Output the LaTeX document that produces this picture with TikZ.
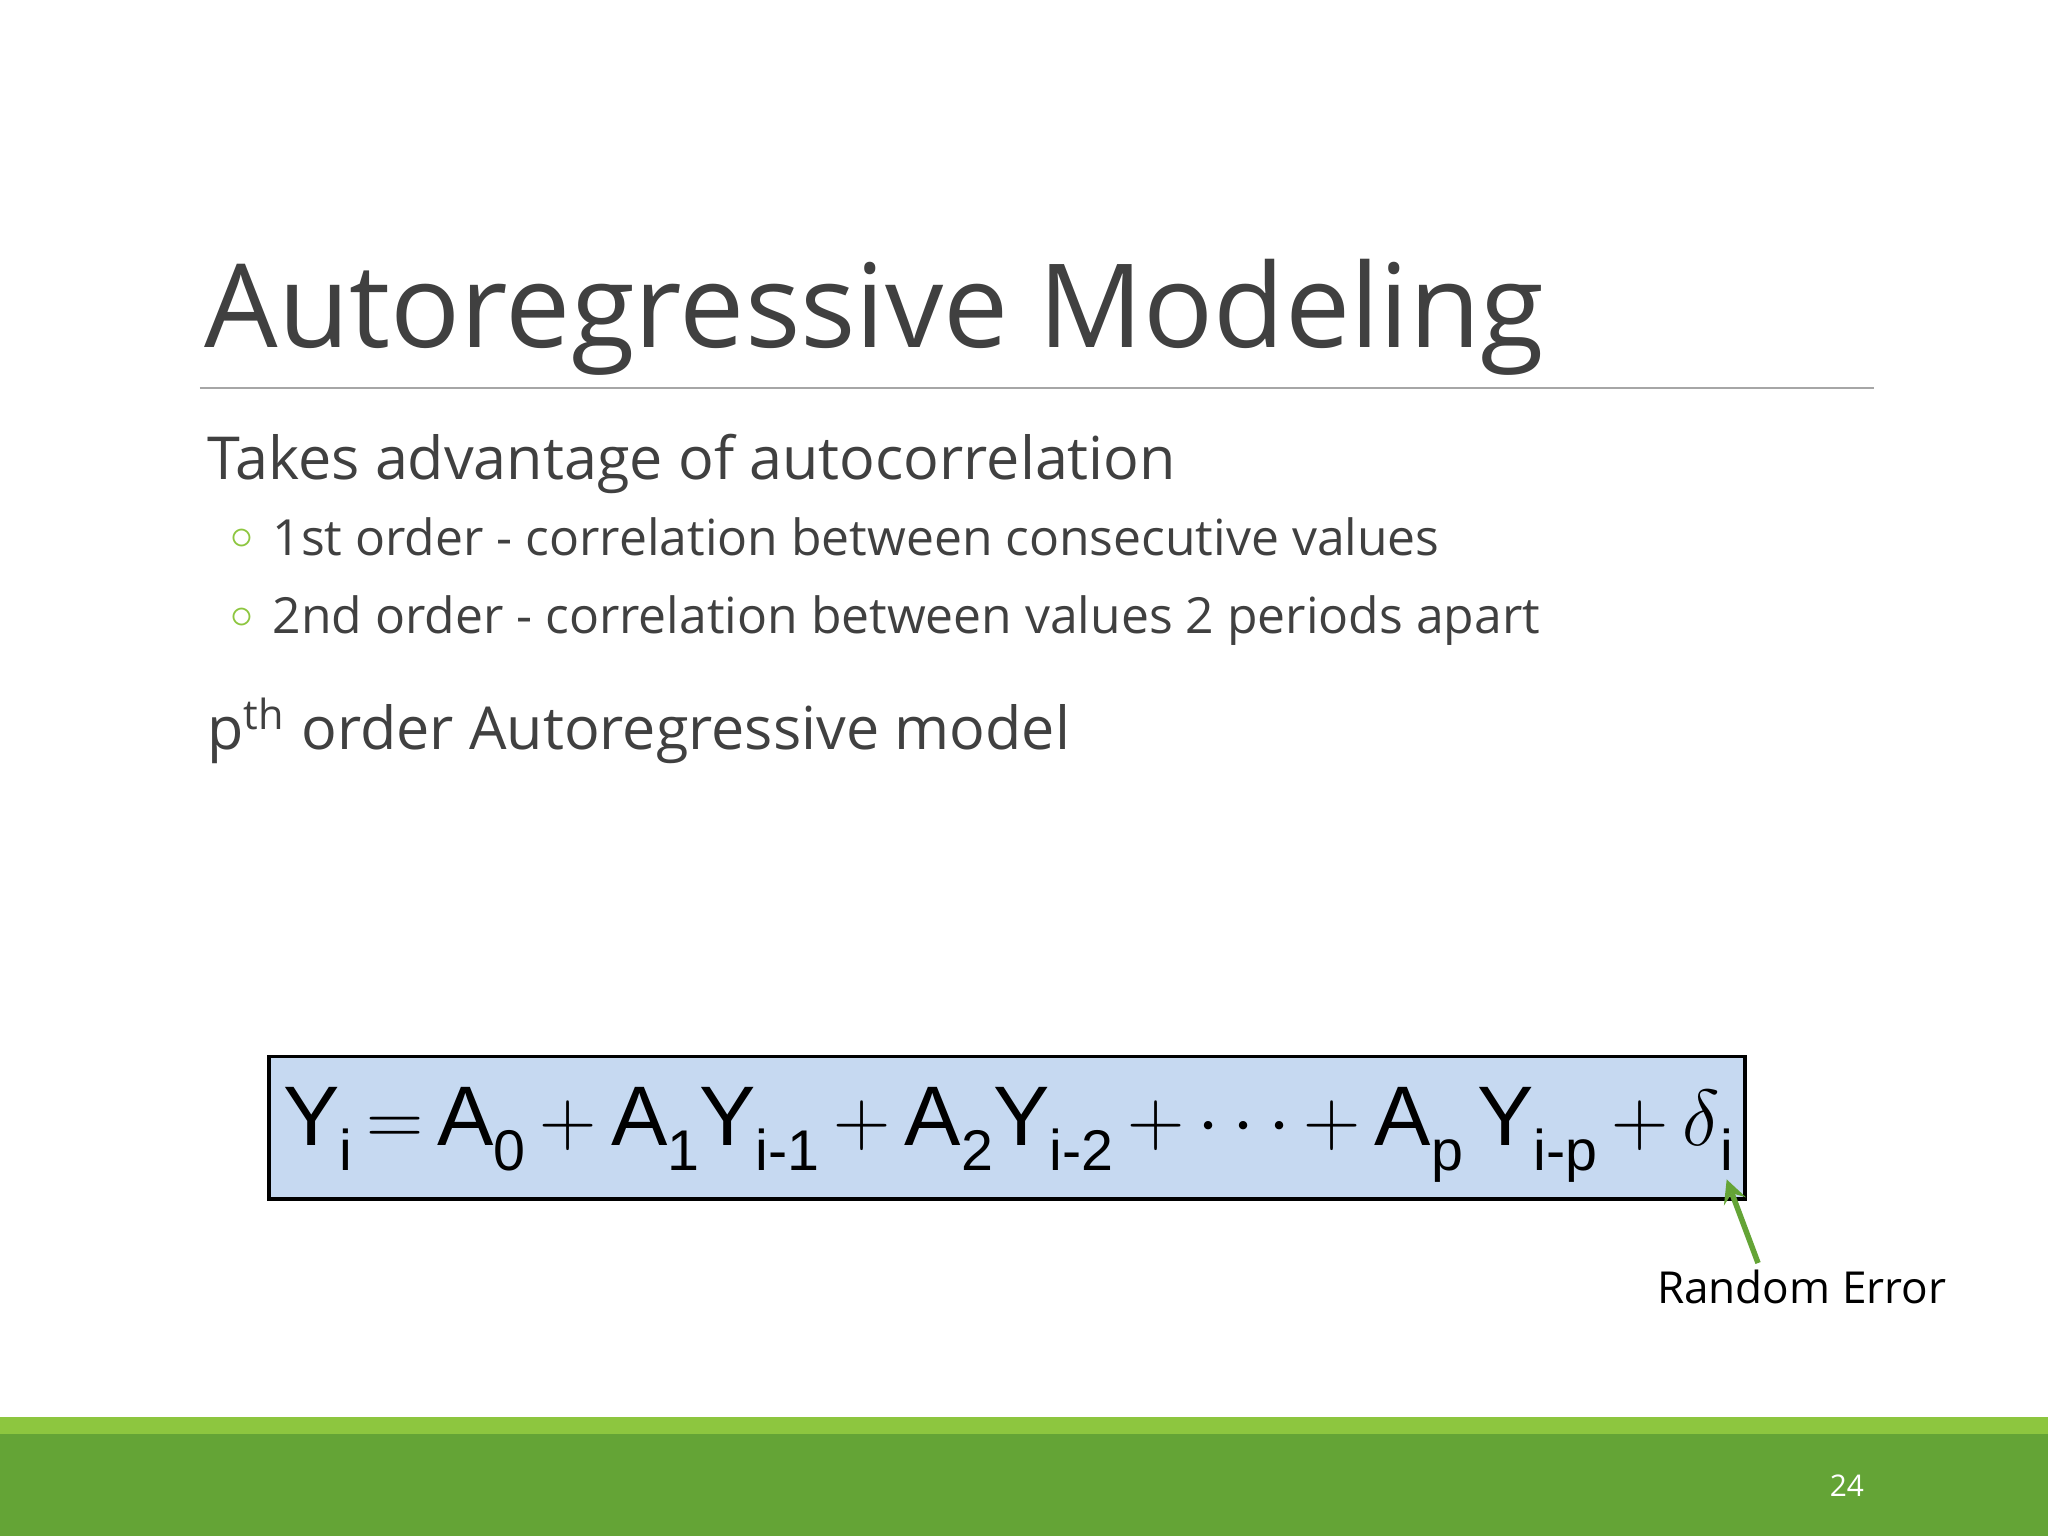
\documentclass[tikz,border=0pt]{standalone}
\usepackage{fontspec}
\setmainfont{Open Sans}
\newfontfamily\arialf{Liberation Sans}
\definecolor{txt}{HTML}{404040}
\definecolor{eqblue}{HTML}{C6D9F1}
\definecolor{lgreen}{HTML}{8DC63F}
\definecolor{dgreen}{HTML}{64A436}
\newcommand{\sbx}[1]{\raisebox{-0.55ex}{\fontsize{12.5}{13}\selectfont #1}}
\tikzset{lbl/.style={anchor=base west,inner sep=0pt,text=txt}}
\begin{document}
\begin{tikzpicture}[x=0.01cm,y=-0.01cm]
\useasboundingbox (0,0) rectangle (1568,1176);
\fill[white] (0,0) rectangle (1568,1176);
\node[lbl,font=\fontsize{25.3}{26}\selectfont] (title) at (156,266) {Autoregressive Modeling};
\draw[gray!70,line width=0.6pt] (153,297) -- (1435,297);
\node[lbl,font=\fontsize{12.9}{14}\selectfont] (t1) at (158,367) {Takes advantage of autocorrelation};
\node[lbl,text=lgreen,font=\fontsize{10}{10}\selectfont] (b1) at (176,421) {$\circ$};
\node[lbl,font=\fontsize{10.85}{12}\selectfont] (t2) at (208,425) {1st order - correlation between consecutive values};
\node[lbl,text=lgreen,font=\fontsize{10}{10}\selectfont] (b2) at (176,481) {$\circ$};
\node[lbl,font=\fontsize{10.85}{12}\selectfont] (t3) at (208,485) {2nd order - correlation between values 2 periods apart};
\node[lbl,font=\fontsize{12.9}{14}\selectfont] (t4) at (158,574) {p\textsuperscript{th} order Autoregressive model};
\draw[black,line width=0.8pt,fill=eqblue] (206,809) rectangle (1336,918);
\node[anchor=base west,inner sep=0pt,font=\arialf\fontsize{18.4}{20}\selectfont] (eq) at (216,877)
 {Y\sbx{i}\,$=$\,A\sbx{0}\,$+$\,A\sbx{1}Y\sbx{i-1}\,$+$\,A\sbx{2}Y\sbx{i-2}\,$+\cdots+$\,A\sbx{p}\,Y\sbx{i-p}\,$+$\,$\delta$\sbx{i}};
\coordinate (err) at (1322,903);
\node[anchor=base west,inner sep=0pt,font=\fontsize{9.6}{11}\selectfont] (re) at (1268,998) {Random Error};
\draw[-stealth,dgreen,line width=1.2pt] (1346,967) -- (err);
\fill[lgreen] (0,1085) rectangle (1568,1098);
\fill[dgreen] (0,1098) rectangle (1568,1176);
\node[anchor=base,inner sep=0pt,text=white,font=\fontsize{6.5}{7}\selectfont] (pg) at (1414,1146) {24};
\end{tikzpicture}
\end{document}
